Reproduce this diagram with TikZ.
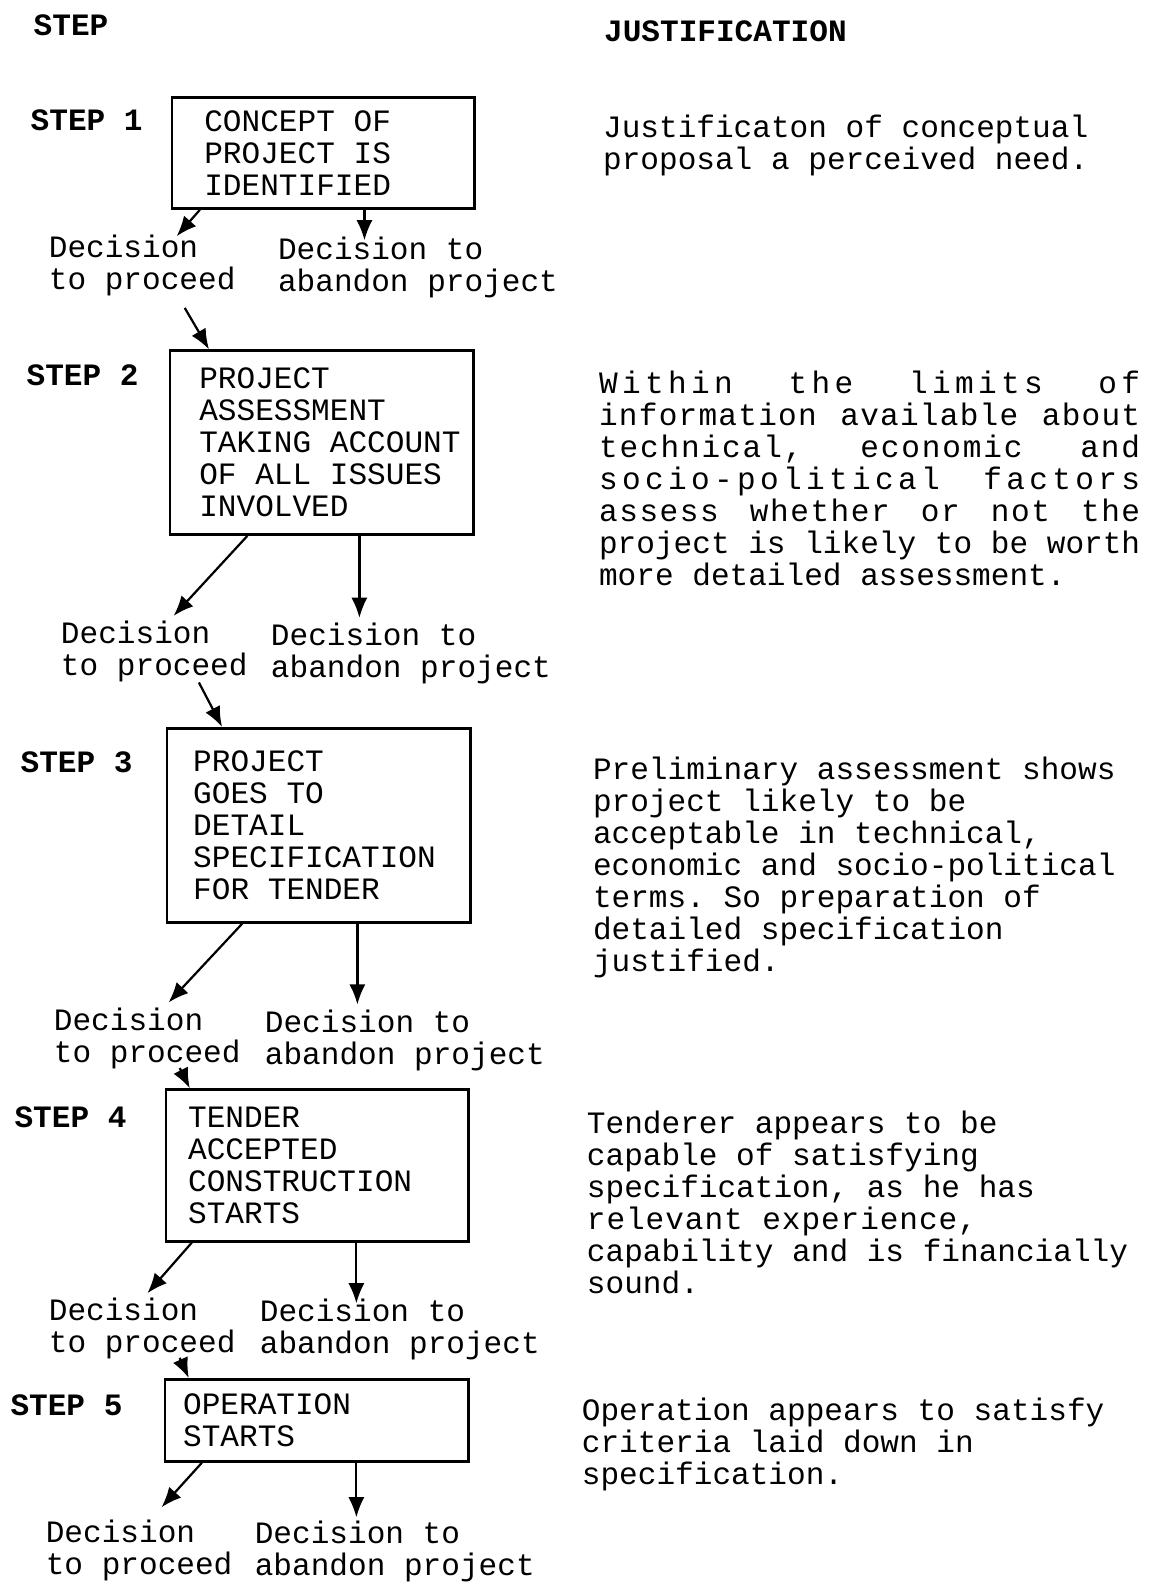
\documentclass[tikz,border=0pt]{standalone}
\usepackage{fontspec}
\setmainfont{Liberation Mono}
\usetikzlibrary{arrows.meta}
\frenchspacing

\newcommand{\spreadline}[2]{\makebox[268pt][l]{\addfontfeatures{LetterSpace=#1}#2}}

\begin{document}
\begin{tikzpicture}[x=0.5pt, y=-0.5pt,
    every node/.style={font=\fontsize{15.4}{15.85}\selectfont, inner sep=0pt},
    stage/.style={draw, line width=1.4pt, anchor=north west, align=flush left},
    steplabel/.style={anchor=base west, font=\fontsize{15.4}{15.85}\selectfont\bfseries},
    outcome/.style={anchor=base west, align=left},
    note/.style={anchor=base west, align=left},
    flow/.style={line width=1.1pt, -{Latex[length=10pt, width=8pt]}}]
    \useasboundingbox (0,0) rectangle (1144,1568);
    % Headings
    \node[steplabel] (steps) at (33,35) {STEP};
    \node[steplabel] (reasons) at (598,41) {JUSTIFICATION};
    % Step labels
    \node[steplabel] (s1) at (30,129) {STEP 1};
    \node[steplabel] (s2) at (26,382) {STEP 2};
    \node[steplabel] (s3) at (20,765) {STEP 3};
    \node[steplabel] (s4) at (14,1117) {STEP 4};
    \node[steplabel] (s5) at (10,1402) {STEP 5};
    % Boxes
    \node[stage, minimum width=150pt, minimum height=55pt, text width=118pt] (box1) at (169,95)
        {CONCEPT OF\\PROJECT IS\\IDENTIFIED};
    \node[stage, minimum width=150.5pt, minimum height=91pt, text width=121.5pt] (box2) at (167,346)
        {PROJECT\\ASSESSMENT\\\mbox{TAKING ACCOUNT}\\OF ALL ISSUES\\INVOLVED};
    \node[stage, minimum width=150.5pt, minimum height=96pt, text width=124.5pt] (box3) at (164,720)
        {PROJECT\\GOES TO\\DETAIL\\SPECIFICATION\\FOR TENDER};
    \node[stage, minimum width=150pt, minimum height=75pt, text width=128pt] (box4) at (163,1078)
        {TENDER\\ACCEPTED\\CONSTRUCTION\\STARTS};
    \node[stage, minimum width=150.5pt, minimum height=40.5pt, text width=132.5pt] (box5) at (162,1365)
        {OPERATION\\STARTS};
    % Decisions (placed by their last line)
    \node[outcome] (go1) at (48,287) {Decision\\to proceed};
    \node[outcome] (stop1) at (275,289) {Decision to\\abandon project};
    \node[outcome] (go2) at (60,669) {Decision\\to proceed};
    \node[outcome] (stop2) at (268,671) {Decision to\\abandon project};
    \node[outcome] (go3) at (53,1052) {Decision\\to proceed};
    \node[outcome] (stop3) at (262,1054) {Decision to\\abandon project};
    \node[outcome] (go4) at (48,1340) {Decision\\to proceed};
    \node[outcome] (stop4) at (257,1341) {Decision to\\abandon project};
    \node[outcome] (go5) at (45,1560) {Decision\\to proceed};
    \node[outcome] (stop5) at (252,1561) {Decision to\\abandon project};
    % Arrows
    \draw[flow] ([shift={(29,0)}]box1.south west) -- ([shift={(127,-53)}]go1.base west);
    \draw[flow] ([shift={(192,0)}]box1.south west) -- ([shift={(86,-51)}]stop1.base west);
    \draw[flow] ([shift={(135,18)}]go1.base west) -- ([shift={(40,0)}]box2.north west);
    \draw[flow] ([shift={(78,0)}]box2.south west) -- ([shift={(112,-59)}]go2.base west);
    \draw[flow] ([shift={(189,0)}]box2.south west) -- ([shift={(88,-59)}]stop2.base west);
    \draw[flow] ([shift={(137,7)}]go2.base west) -- ([shift={(56,0)}]box3.north west);
    \draw[flow] ([shift={(76,0)}]box3.south west) -- ([shift={(114,-59)}]go3.base west);
    \draw[flow] ([shift={(190,0)}]box3.south west) -- ([shift={(92,-59)}]stop3.base west);
    \draw[flow] ([shift={(125,6)}]go3.base west) -- ([shift={(25,0)}]box4.north west);
    \draw[flow] ([shift={(27,0)}]box4.south west) -- ([shift={(98,-59)}]go4.base west);
    \draw[flow] ([shift={(190,0)}]box4.south west) -- ([shift={(96,-50)}]stop4.base west);
    \draw[flow] ([shift={(130,5)}]go4.base west) -- ([shift={(25,0)}]box5.north west);
    \draw[flow] ([shift={(38,0)}]box5.south west) -- ([shift={(115,-67)}]go5.base west);
    \draw[flow] ([shift={(191,0)}]box5.south west) -- ([shift={(101,-58)}]stop5.base west);
    % Justification (placed by their last line)
    \node[note] (why1) at (597,168) {Justificaton of conceptual\\proposal a perceived need.};
    \node[note] (why2) at (593,580) {\spreadline{14}{Within\hfill the\hfill limits\hfill of}\\
        \spreadline{4}{information\hfill available\hfill about}\\
        \spreadline{6}{technical,\hfill economic\hfill and}\\
        \spreadline{14}{socio-political\hfill factors}\\
        \spreadline{5}{assess\hfill whether\hfill or\hfill not\hfill the}\\
        project is likely to be worth\\
        more detailed assessment.};
    \node[note] (why3) at (587,962) {Preliminary assessment shows\\project likely to be\\
        acceptable in technical,\\economic and socio-political\\terms. So preparation of\\
        detailed specification\\justified.};
    \node[note] (why4) at (581,1281) {Tenderer appears to be\\capable of satisfying\\
        specification, as he has\\{\addfontfeatures{LetterSpace=3}relevant experience,}\\
        capability and is financially\\sound.};
    \node[note] (why5) at (576,1470) {Operation appears to satisfy\\criteria laid down in\\
        specification.};
\end{tikzpicture}
\end{document}
